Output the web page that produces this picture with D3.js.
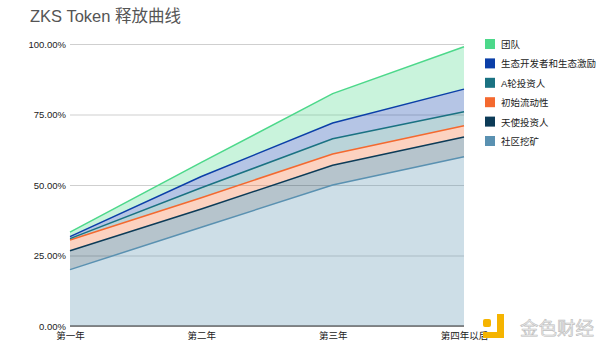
<!DOCTYPE html>
<html>
<head>
<meta charset="utf-8">
<script src="https://cdn.jsdelivr.net/npm/d3@7"></script>
<style>
  body { margin: 0; background: #fff; }
  text { font-family: "Liberation Sans", "Noto Sans CJK SC", sans-serif; }
</style>
</head>
<body>
<div id="chart"></div>
<script>
// x categories
const years = ["第一年", "第二年", "第三年", "第四年以后"];

// series (bottom to top), values are per-series increments in %
const seriesNames = ["社区挖矿", "天使投资人", "初始流动性", "A轮投资人", "生态开发者和生态激励", "团队"];
const miningVals = [20, 35, 50, 60];
const angelVals = [6.7, 6.5, 7, 7];
const liquidityVals = [3.8, 4, 4, 4];
const seriesAVals = [0.5, 3.5, 5.4, 5];
const ecoVals = [0.7, 4, 5.6, 8];
const teamVals = [1.6, 5, 10.4, 15];
const seriesColors = ["#5a91b1", "#0c3b57", "#f4692f", "#1a7282", "#0b3fa8", "#4cd88a"];

// legend order (top to bottom)
const legendOrder = ["团队", "生态开发者和生态激励", "A轮投资人", "初始流动性", "天使投资人", "社区挖矿"];

const yTicks = [0, 25, 50, 75, 100];

const allVals = [miningVals, angelVals, liquidityVals, seriesAVals, ecoVals, teamVals];
const table = years.map((y, i) => {
    let row = {year: y};
    seriesNames.forEach((s, k) => row[s] = allVals[k][i]);
    return row;
});

const width = 600, height = 353;
const margin = {top: 44, right: 136, bottom: 27, left: 70};

const svg = d3.select("#chart").append("svg")
    .attr("width", width)
    .attr("height", height);

svg.append("text")
    .attr("x", 30)
    .attr("y", 22)
    .attr("font-size", 16.5)
    .attr("fill", "#555")
    .text("ZKS Token 释放曲线");

const x = d3.scalePoint()
    .domain(years)
    .range([margin.left, width - margin.right]);

const y = d3.scaleLinear()
    .domain([0, 100])
    .range([height - margin.bottom, margin.top]);

// gridlines + y labels
const yAxis = svg.append("g")
    .attr("transform", `translate(${margin.left},0)`)
    .call(d3.axisLeft(y).tickValues(yTicks)
        .tickSize(-(width - margin.right - margin.left))
        .tickFormat(d => d.toFixed(2) + "%"));
yAxis.select(".domain").remove();
yAxis.selectAll(".tick line").attr("stroke", "#cfcfcf");
yAxis.selectAll(".tick text")
    .attr("x", -4)
    .attr("font-size", 9.5)
    .attr("fill", "#222");

const stack = d3.stack().keys(seriesNames);
const stacked = stack(table);

const area = d3.area()
    .x(d => x(d.data.year))
    .y0(d => y(d[0]))
    .y1(d => y(d[1]));

const line = d3.line()
    .x(d => x(d.data.year))
    .y(d => y(d[1]));

svg.append("g").selectAll("path")
    .data(stacked)
    .join("path")
    .attr("d", area)
    .attr("fill", (d, i) => seriesColors[i])
    .attr("fill-opacity", 0.3);

svg.append("g").selectAll("path")
    .data(stacked)
    .join("path")
    .attr("d", line)
    .attr("fill", "none")
    .attr("stroke", (d, i) => seriesColors[i])
    .attr("stroke-width", 1.5);

// baseline
svg.append("line")
    .attr("x1", margin.left)
    .attr("x2", width - margin.right)
    .attr("y1", y(0))
    .attr("y2", y(0))
    .attr("stroke", "#333")
    .attr("stroke-width", 1);

// x labels
const xAxis = svg.append("g")
    .attr("transform", `translate(0,${y(0)})`)
    .call(d3.axisBottom(x).tickSize(0).tickPadding(6));
xAxis.select(".domain").remove();
xAxis.selectAll(".tick text")
    .attr("font-size", 9.5)
    .attr("fill", "#222");

// legend
const legend = svg.append("g")
    .attr("transform", "translate(485,39)");
legendOrder.forEach((name, i) => {
    const k = seriesNames.indexOf(name);
    const g = legend.append("g").attr("transform", `translate(0,${i * 19.4})`);
    g.append("rect")
        .attr("width", 10)
        .attr("height", 10)
        .attr("fill", seriesColors[k]);
    g.append("text")
        .attr("x", 16)
        .attr("y", 9)
        .attr("font-size", 9.5)
        .attr("fill", "#222")
        .text(name);
});

// watermark
const wm = svg.append("g").attr("transform", "translate(483,314)");
wm.append("rect").attr("x", 0).attr("y", 5).attr("width", 8).attr("height", 8).attr("rx", 2).attr("fill", "#f5b400");
wm.append("path").attr("d", "M14,0 h7 v24 h-21 v-6 h14 z").attr("fill", "#f5b400");
wm.append("text")
    .attr("x", 37)
    .attr("y", 21)
    .attr("font-size", 18.5)
    .attr("fill", "#ececec")
    .attr("stroke", "#bdbdbd")
    .attr("stroke-width", 0.6)
    .text("金色财经");
</script>
</body>
</html>
